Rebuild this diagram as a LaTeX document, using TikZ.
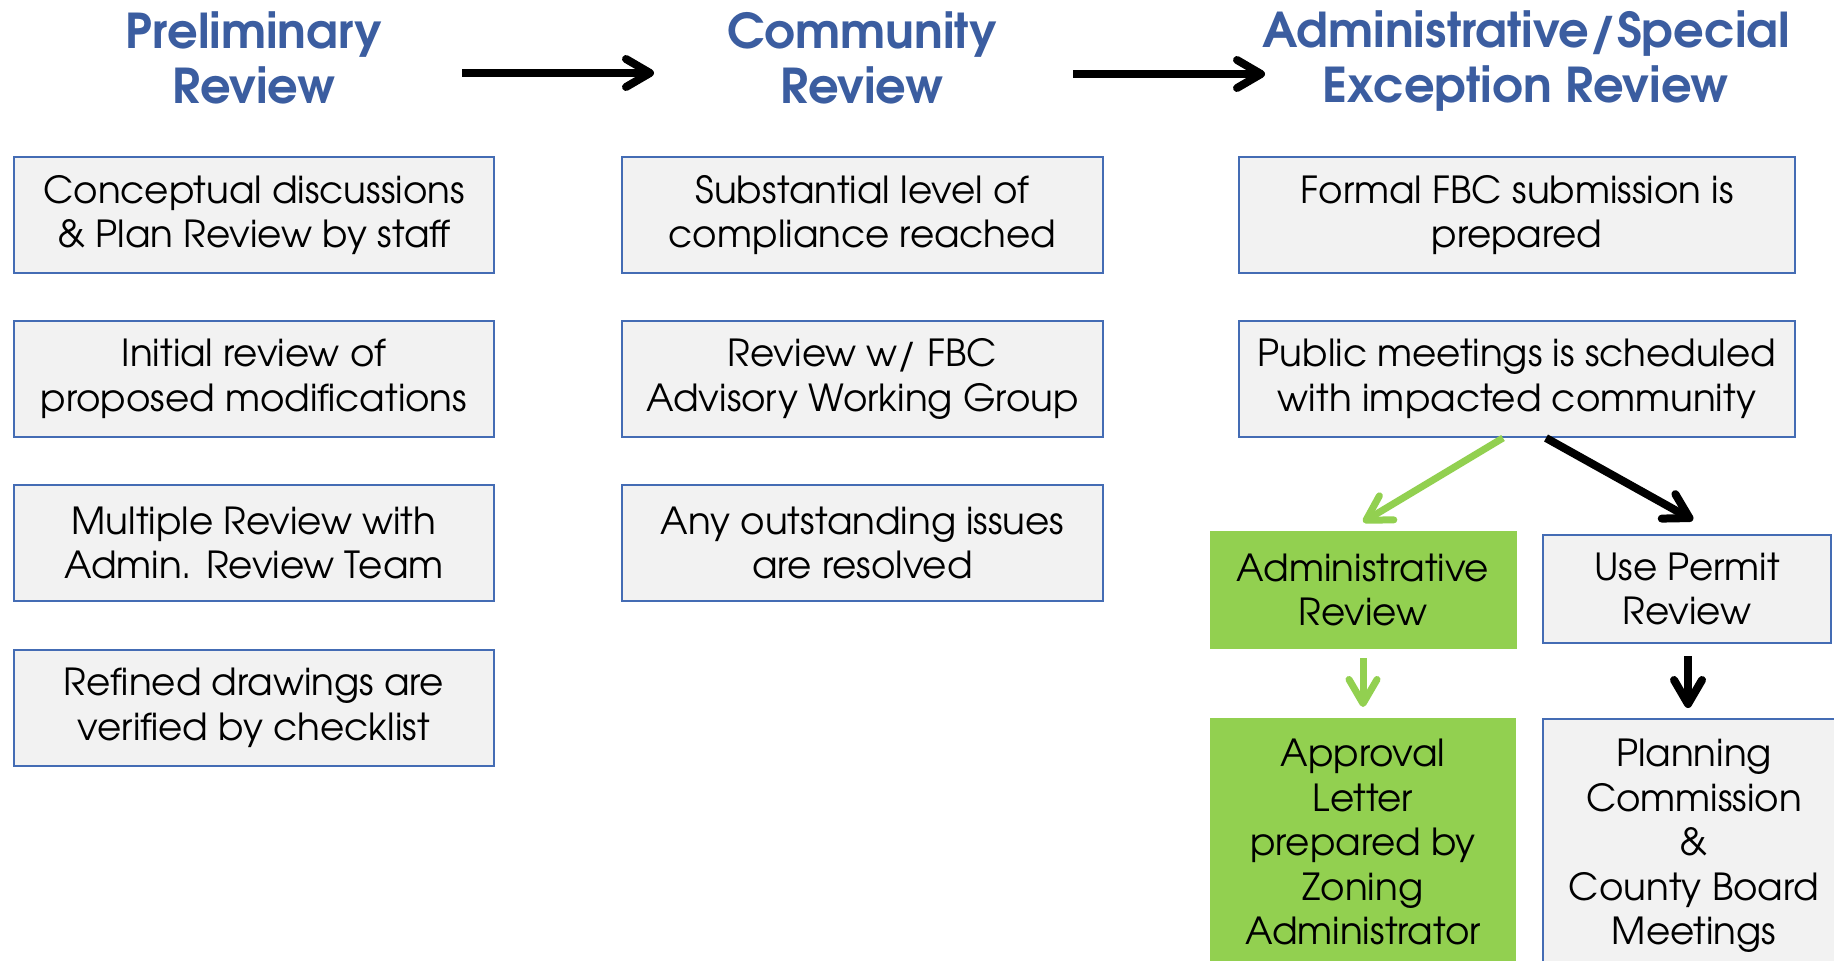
\documentclass[tikz,border=0pt]{standalone}
\usepackage{fontspec}
\setmainfont{TeX Gyre Adventor}
\usetikzlibrary{arrows.meta}
\definecolor{titleblue}{RGB}{59,93,160}
\definecolor{boxline}{RGB}{68,108,180}
\definecolor{boxfill}{RGB}{242,242,242}
\definecolor{leafgreen}{RGB}{146,208,80}
\begin{document}
\begin{tikzpicture}[x=1pt,y=-1pt,
  stage/.style={font=\fontsize{48}{55}\selectfont\bfseries, text=titleblue, align=center, inner sep=0pt},
  stepbox/.style={draw=boxline, line width=2pt, fill=boxfill, align=center, inner sep=0pt,
    font=\fontsize{37.3}{44.5}\selectfont, minimum height=116pt},
  greenbox/.style={stepbox, draw=leafgreen, fill=leafgreen},
  flow/.style={line width=8pt, -{Straight Barb[length=24pt,width=28pt,round]}},
  greenflow/.style={flow, draw=leafgreen, line width=7pt},
]
\useasboundingbox (0,0) rectangle (1834,961);
\fill[white] (0,0) rectangle (1834,961);

% stage headings
\node[stage] (t1) at (254,58) {Preliminary\\Review};
\node[stage] (t2) at (862,58) {Community\\Review};
\node[stage] (t3) at (1526,61) {Administrative/Special\\Exception Review};

% arrows between the stages
\coordinate (a1s) at (462,73);
\coordinate (a1e) at (654,73);
\coordinate (a2s) at (1073,74);
\coordinate (a2e) at (1265,74);
\draw[flow] (a1s) -- (a1e);
\draw[flow] (a2s) -- (a2e);

% preliminary review steps
\node[stepbox, minimum width=480pt] (p1) at (254,215) {Conceptual discussions\\\& Plan Review by staff};
\node[stepbox, minimum width=480pt] (p2) at (254,379) {Initial review of\\proposed modifications};
\node[stepbox, minimum width=480pt] (p3) at (254,543) {Multiple Review with\\Admin. Review Team};
\node[stepbox, minimum width=480pt] (p4) at (254,708) {Refined drawings are\\verified by checklist};

% community review steps
\node[stepbox, minimum width=481pt] (c1) at (862.5,215) {Substantial level of\\compliance reached};
\node[stepbox, minimum width=481pt] (c2) at (862.5,379) {Review w/ FBC\\Advisory Working Group};
\node[stepbox, minimum width=481pt] (c3) at (862.5,543) {Any outstanding issues\\are resolved};

% administrative / special exception steps
\node[stepbox, minimum width=556pt] (fs) at (1517,215) {Formal FBC submission is\\prepared};
\node[stepbox, minimum width=556pt] (pm) at (1517,379) {Public meetings is scheduled\\with impacted community};

\node[greenbox, minimum width=305pt] (adm) at (1363,590) {Administrative\\Review};
\node[stepbox, minimum width=288pt, minimum height=108pt] (up) at (1687,589) {Use Permit\\Review};

\node[greenbox, minimum width=304pt, minimum height=246pt] (appr) at (1363,842)
  {Approval\\Letter\\prepared by\\Zoning\\Administrator};
\node[stepbox, minimum width=302pt, minimum height=254pt] (plan) at (1694,846)
  {Planning\\Commission\\\&\\County Board\\Meetings};

% branching arrows
\draw[greenflow] ([xshift=-14pt]pm.south) -- ([yshift=9pt]adm.north);
\draw[flow] ([xshift=29pt]pm.south) -- ([xshift=6pt,yshift=14pt]up.north);
\draw[greenflow, shorten <=9pt, shorten >=11pt] (adm.south) -- (adm.south |- appr.north);
\draw[flow, shorten <=12pt, shorten >=10pt] ([xshift=1pt]up.south) -- ([xshift=1pt]up.south |- appr.north);
\end{tikzpicture}
\end{document}
